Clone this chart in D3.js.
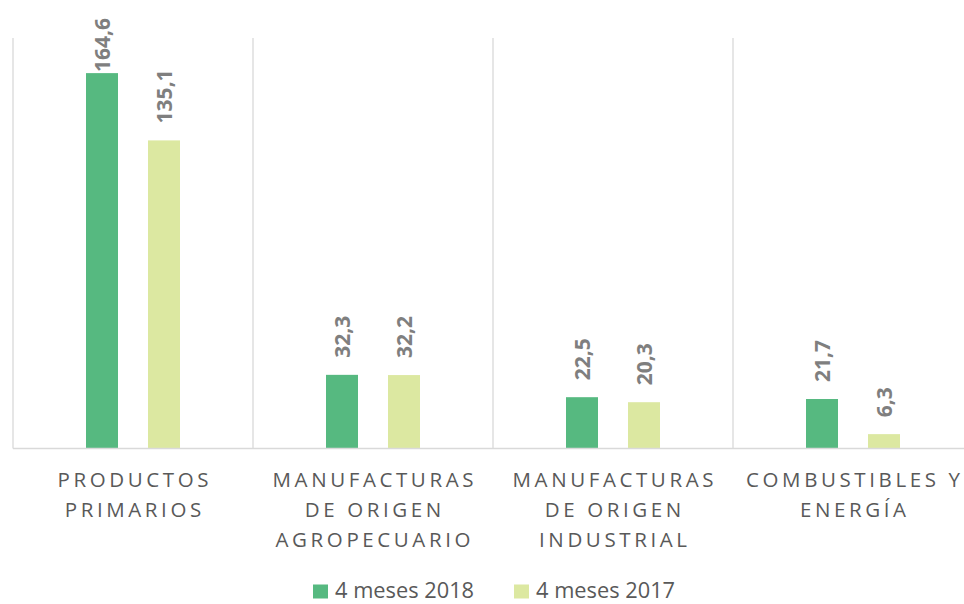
<!DOCTYPE html>
<html>
<head>
<meta charset="utf-8">
<script src="https://cdn.jsdelivr.net/npm/d3@7"></script>
<style>
  body { margin: 0; background: #fff; }
  svg { display: block; }
</style>
</head>
<body>
<svg id="chart" width="964" height="604"></svg>
<script>
// data
var categories = [
    ["PRODUCTOS", "PRIMARIOS"],
    ["MANUFACTURAS", "DE ORIGEN", "AGROPECUARIO"],
    ["MANUFACTURAS", "DE ORIGEN", "INDUSTRIAL"],
    ["COMBUSTIBLES Y", "ENERGÍA"]
];
var series = ["4 meses 2018", "4 meses 2017"];
var values2018 = [164.6, 32.3, 22.5, 21.7];
var values2017 = [135.1, 32.2, 20.3, 6.3];
var colors = ["#56b980", "#dce8a1"];

var svg = d3.select("#chart");
var plotLeft = 13, plotRight = 973, plotTop = 38, plotBottom = 448.5;

var x = d3.scaleBand().domain(d3.range(categories.length)).range([plotLeft, plotRight]);
var y = d3.scaleLinear().domain([0, 180]).range([plotBottom, plotTop]);

var BAR_W = 32, GAP = 30;

// vertical grid lines between categories
svg.selectAll("line.grid").data(d3.range(categories.length + 1))
    .enter().append("line")
    .attr("class", "grid")
    .attr("x1", function(d) { return plotLeft + d * x.bandwidth(); })
    .attr("x2", function(d) { return plotLeft + d * x.bandwidth(); })
    .attr("y1", plotTop)
    .attr("y2", plotBottom)
    .attr("stroke", "#d9d9d9")
    .attr("stroke-width", 1.3);

var rows = [];
for (var i = 0; i < categories.length; i++) {
    rows.push({ c: i, s: 0, v: values2018[i] });
    rows.push({ c: i, s: 1, v: values2017[i] });
}

function barX(d) {
    var center = x(d.c) + x.bandwidth() / 2;
    return d.s === 0 ? center - GAP / 2 - BAR_W : center + GAP / 2;
}

svg.selectAll("rect.bar").data(rows)
    .enter().append("rect")
    .attr("class", "bar")
    .attr("x", barX)
    .attr("width", BAR_W)
    .attr("y", function(d) { return y(d.v); })
    .attr("height", function(d) { return plotBottom - y(d.v); })
    .attr("fill", function(d) { return colors[d.s]; });

// baseline
svg.append("line")
    .attr("x1", plotLeft).attr("x2", 964)
    .attr("y1", plotBottom).attr("y2", plotBottom)
    .attr("stroke", "#d9d9d9").attr("stroke-width", 1.5);

// value labels, rotated
var fmt = function(v) { return d3.format(".1f")(v).replace(".", ","); };
svg.selectAll("text.val").data(rows)
    .enter().append("text")
    .attr("class", "val")
    .attr("font-family", "'Open Sans', sans-serif")
    .attr("font-weight", "bold")
    .attr("font-size", 21)
    .attr("fill", "#7f7f7f")
    .attr("dy", "0.36em")
    .text(function(d) { return fmt(d.v); })
    .each(function(d) {
        var len = this.getComputedTextLength();
        var start = y(d.v) - 17;
        if (start - len < 18) start = 18 + len;
        var cx = barX(d) + BAR_W / 2;
        d3.select(this).attr("transform", "translate(" + cx + "," + start + ") rotate(-90)");
    });

// category labels
var cat = svg.selectAll("text.cat").data(categories)
    .enter().append("text")
    .attr("class", "cat")
    .attr("font-family", "'Open Sans', sans-serif")
    .attr("font-size", 20.5)
    .attr("letter-spacing", 3.6)
    .attr("fill", "#595959")
    .attr("text-anchor", "middle");
cat.selectAll("tspan").data(function(d, i) { return d.map(function(t) { return { t: t, i: i }; }); })
    .enter().append("tspan")
    .attr("x", function(d) { return x(d.i) + x.bandwidth() / 2 + 1.8; })
    .attr("y", function(d, j) { return 487 + j * 30; })
    .text(function(d) { return d.t; });

// legend
var leg = svg.selectAll("g.leg").data(series)
    .enter().append("g")
    .attr("class", "leg")
    .attr("transform", function(d, i) { return "translate(" + (313 + i * 201) + ",584.5)"; });
leg.append("rect")
    .attr("width", 15).attr("height", 14)
    .attr("fill", function(d, i) { return colors[i]; });
leg.append("text")
    .attr("x", 22).attr("y", 13.5)
    .attr("font-family", "'Open Sans', sans-serif")
    .attr("font-size", 21.8)
    .attr("fill", "#595959")
    .text(function(d) { return d; });
</script>
</body>
</html>
